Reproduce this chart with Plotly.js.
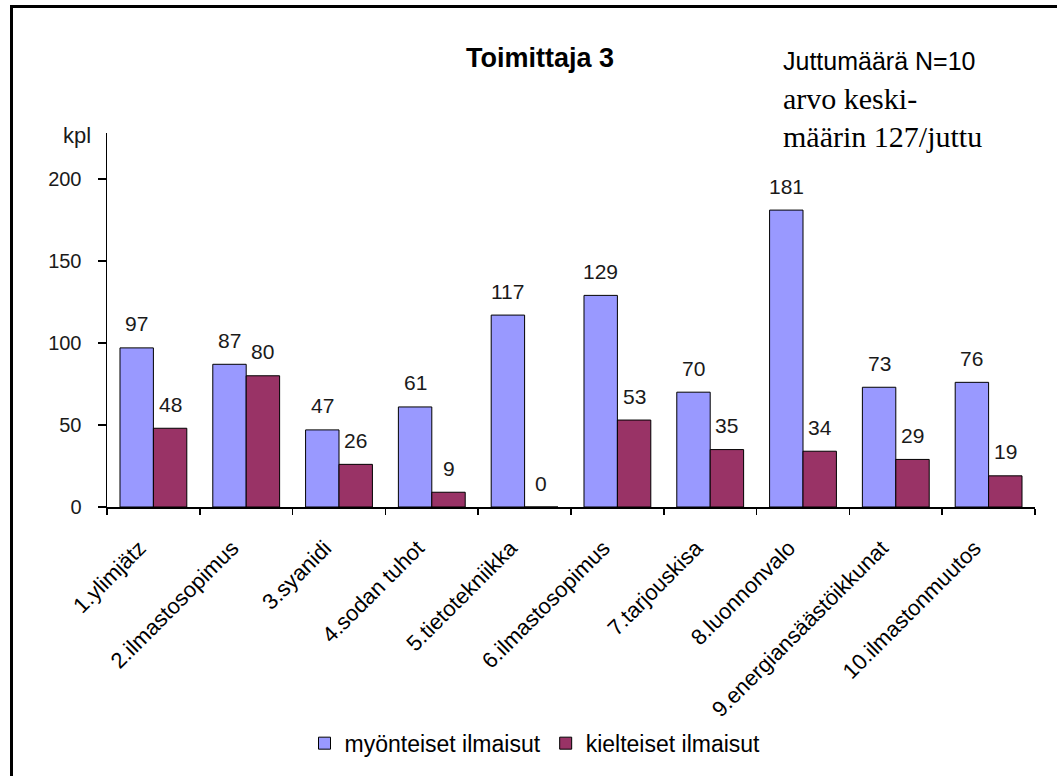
<!DOCTYPE html>
<html>
<head>
<meta charset="utf-8">
<script src="https://cdn.plot.ly/plotly-3.0.1.min.js"></script>
<style>
  html, body { margin: 0; padding: 0; background: #ffffff; }
  #wrap { position: relative; width: 1057px; height: 776px; overflow: hidden; }
  #chart { position: absolute; left: 0; top: 0; width: 1057px; height: 776px; }
  #frame { position: absolute; left: 10px; top: 5px; width: 1100px; height: 800px;
           border-top: 3px solid #000; border-left: 3px solid #000; pointer-events: none; }
</style>
</head>
<body>
<div id="wrap">
  <div id="chart"></div>
  <div id="frame"></div>
</div>
<script>
const categories = [
  "1.ylimjätz",
  "2.ilmastosopimus",
  "3.syanidi",
  "4.sodan tuhot",
  "5.tietotekniikka",
  "6.ilmastosopimus",
  "7.tarjouskisa",
  "8.luonnonvalo",
  "9.energiansäästöikkunat",
  "10.ilmastonmuutos"
];
const myonteiset = [97, 87, 47, 61, 117, 129, 70, 181, 73, 76];
const kielteiset = [48, 80, 26, 9, 0, 53, 35, 34, 29, 19];
const seriesNames = ["myönteiset ilmaisut", "kielteiset ilmaisut"];
const titleText = "Toimittaja 3";
const yUnit = "kpl";
const noteLines = ["Juttumäärä N=10", "arvo keski-", "määrin 127/juttu"];

const FONT = "Arial, 'Liberation Sans', sans-serif";
const SERIF = "'Times New Roman', 'Liberation Serif', serif";

const traces = [
  {
    type: "bar", name: seriesNames[0], x: categories, y: myonteiset,
    marker: { color: "#9999FF", line: { color: "#000000", width: 1 } },
    hoverinfo: "none"
  },
  {
    type: "bar", name: seriesNames[1], x: categories, y: kielteiset,
    marker: { color: "#993366", line: { color: "#000000", width: 1 } },
    hoverinfo: "none"
  }
];

const annotations = [];
const groupShift = 16.7;
categories.forEach((c, i) => {
  annotations.push({ x: c, y: myonteiset[i], xref: "x", yref: "y", text: String(myonteiset[i]),
    showarrow: false, xshift: -groupShift, yshift: 24, yanchor: "middle",
    font: { family: FONT, size: 21, color: "#1a1a1a" } });
  annotations.push({ x: c, y: kielteiset[i], xref: "x", yref: "y", text: String(kielteiset[i]),
    showarrow: false, xshift: groupShift, yshift: 24, yanchor: "middle",
    font: { family: FONT, size: 21, color: "#1a1a1a" } });
});

// plot area: x 107..1035, y 133..513
const px = v => (v - 107) / 928;
const py = v => (513 - v) / 380;

annotations.push({ xref: "paper", yref: "paper", x: px(77), y: py(136), text: yUnit,
  showarrow: false, xanchor: "center", yanchor: "middle",
  font: { family: FONT, size: 22, color: "#1a1a1a" } });
annotations.push({ xref: "paper", yref: "paper", x: px(781), y: py(60), text: noteLines[0],
  showarrow: false, xanchor: "left", yanchor: "middle",
  font: { family: FONT, size: 25, color: "#000000" } });
annotations.push({ xref: "paper", yref: "paper", x: px(781), y: py(98), text: noteLines[1],
  showarrow: false, xanchor: "left", yanchor: "middle",
  font: { family: SERIF, size: 30, color: "#000000" } });
annotations.push({ xref: "paper", yref: "paper", x: px(781), y: py(137), text: noteLines[2],
  showarrow: false, xanchor: "left", yanchor: "middle",
  font: { family: SERIF, size: 30, color: "#000000" } });

const layout = {
  width: 1057, height: 776,
  paper_bgcolor: "#ffffff", plot_bgcolor: "#ffffff",
  margin: { l: 107, r: 22, t: 133, b: 263 },
  font: { family: FONT, color: "#000000" },
  title: { text: "<b>" + titleText + "</b>", x: 540 / 1057, xref: "container", xanchor: "center",
           y: 1 - 58 / 776, yref: "container", yanchor: "middle",
           font: { family: FONT, size: 27, color: "#000000" } },
  barmode: "group", bargap: 0.28, bargroupgap: 0,
  showlegend: true,
  legend: { orientation: "h", x: px(535), xanchor: "center", y: py(753), yanchor: "middle",
            font: { family: FONT, size: 23, color: "#000000" }, itemwidth: 30,
            bgcolor: "rgba(0,0,0,0)" },
  xaxis: {
    type: "category", showgrid: false, zeroline: false,
    showline: true, linecolor: "#000000", linewidth: 1.5,
    ticks: "outside", tickson: "boundaries", ticklen: 6, tickcolor: "#000000", tickwidth: 1.5,
    tickangle: -45, tickfont: { family: FONT, size: 22, color: "#000000" },
    ticklabelstandoff: 18, ticklabelshift: -14,
    fixedrange: true
  },
  yaxis: {
    range: [0, 228], dtick: 50, tick0: 0, showgrid: false, zeroline: false,
    showline: true, linecolor: "#000000", linewidth: 1.5,
    ticks: "outside", ticklen: 8, tickcolor: "#000000", tickwidth: 1.5,
    ticklabelstandoff: 12,
    tickfont: { family: FONT, size: 20, color: "#1a1a1a" }, fixedrange: true
  },
  annotations: annotations
};

Plotly.newPlot("chart", traces, layout, { staticPlot: true, displayModeBar: false });
</script>
</body>
</html>
